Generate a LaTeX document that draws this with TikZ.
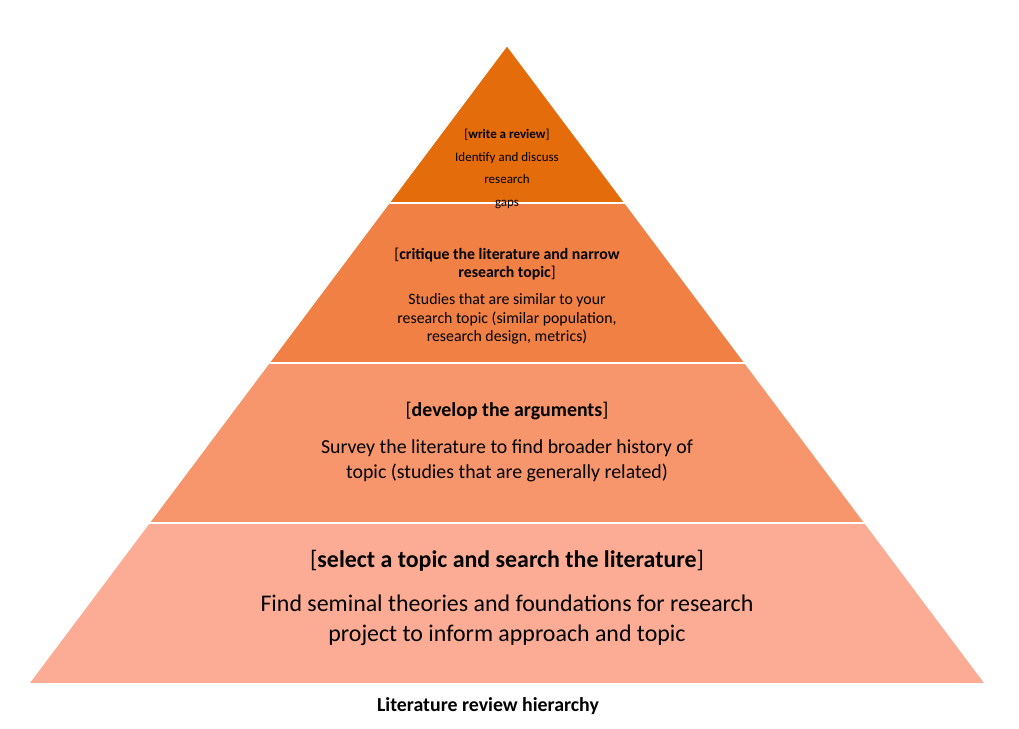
\documentclass[tikz,border=0pt]{standalone}
\usepackage{fontspec}
\setmainfont{Carlito}
\usetikzlibrary{positioning}
\definecolor{tierA}{RGB}{228,108,10}
\definecolor{tierB}{RGB}{240,128,68}
\definecolor{tierC}{RGB}{247,150,108}
\definecolor{tierD}{RGB}{252,172,148}
\begin{document}
\begin{tikzpicture}[x=0.02cm,y=-0.02cm,
  tier/.style={draw=white,line width=1pt},
  label/.style={align=center,text=black,inner sep=0pt}]
\useasboundingbox (0,0) rectangle (1019,729);
% pyramid tiers, top to bottom
\fill[tierA,tier] (507,45) -- (625.4,203) -- (388.6,203) -- cycle;
\fill[tierB,tier] (388.6,203) -- (625.4,203) -- (745.4,363) -- (268.6,363) -- cycle;
\fill[tierC,tier] (268.6,363) -- (745.4,363) -- (865.3,523) -- (148.7,523) -- cycle;
\fill[tierD,tier] (148.7,523) -- (865.3,523) -- (986,684) -- (28,684) -- cycle;
% texts
\node[label,font=\fontsize{7.4}{13}\selectfont] (topA) at (507,169) {[\textbf{write a review}]\\Identify and discuss\\research\\gaps};
\node[label,font=\fontsize{9}{10.5}\selectfont] (topB) at (507,296) {[\textbf{critique the literature and narrow}\\\textbf{research topic}]\\[5pt]Studies that are similar to your\\research topic (similar population,\\research design, metrics)};
\node[label,font=\fontsize{11.3}{14}\selectfont] (topC) at (507,442) {[\textbf{develop the arguments}]\\[7pt]Survey the literature to find broader history of\\topic (studies that are generally related)};
\node[label,font=\fontsize{13.6}{17}\selectfont] (topD) at (507,598) {[\textbf{select a topic and search the literature}]\\[8pt]Find seminal theories and foundations for research\\project to inform approach and topic};
\node[label,font=\fontsize{11.3}{14}\selectfont\bfseries] (caption) at (488,706) {Literature review hierarchy};
\end{tikzpicture}
\end{document}
